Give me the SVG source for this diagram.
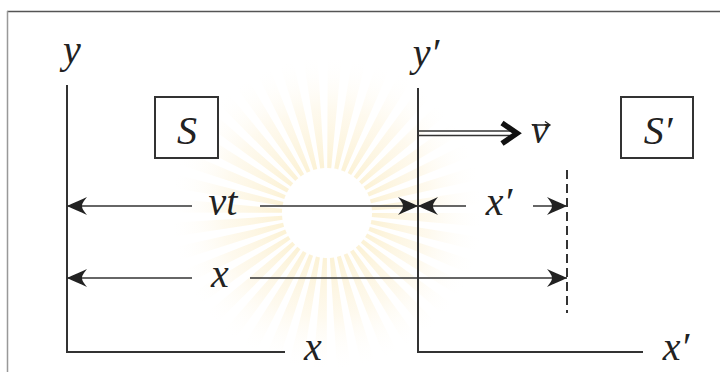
<svg xmlns="http://www.w3.org/2000/svg" width="720" height="372" viewBox="0 0 720 372">
<defs>
<style>
.ax{stroke:#333;stroke-width:2;fill:none}
.dim{stroke:#333;stroke-width:1.6;fill:none}
.lbl{font-size:40px;fill:#222;text-anchor:middle}
.box{fill:#fff;stroke:#333;stroke-width:2}
</style>
<marker id="ah" viewBox="-21 -10 22 20" refX="0" refY="0" markerWidth="22" markerHeight="20" markerUnits="userSpaceOnUse" orient="auto">
<path d="M0,0 C-6,-3 -14,-6 -20,-9 C-16,-4 -15,-2 -15,0 C-15,2 -16,4 -20,9 C-14,6 -6,3 0,0Z" fill="#222"/>
</marker>
<radialGradient id="rg" gradientUnits="userSpaceOnUse" cx="327" cy="213" r="160">
<stop offset="0.3" stop-color="#f8e3a6" stop-opacity="0.45"/>
<stop offset="0.65" stop-color="#fbecc6" stop-opacity="0.3"/>
<stop offset="1" stop-color="#ffffff" stop-opacity="0"/>
</radialGradient>
</defs>
<rect width="720" height="372" fill="#fff"/>
<g id="watermark">
<circle cx="327" cy="213" r="100" fill="none" stroke="url(#rg)" stroke-width="110" stroke-dasharray="9 6.7"/>
</g>
<g id="frame">
<line x1="7" y1="11.5" x2="720" y2="11.5" stroke="#555" stroke-width="1.5"/>
<line x1="7.5" y1="11" x2="7.5" y2="372" stroke="#999" stroke-width="1.5"/>
</g>
<g font-family="Liberation Serif, Times New Roman, serif" font-style="italic">
<g id="frame-S">
<polyline class="ax" points="67,85 67,352 285,352"/>
<text class="lbl" x="72" y="63">y</text>
<text class="lbl" x="313" y="360">x</text>
</g>
<g id="frame-Sprime">
<polyline class="ax" points="418,88 418,352 643,352"/>
<text class="lbl" x="426" y="66">y′</text>
<text class="lbl" x="676" y="360">x′</text>
</g>
<g id="box-S">
<rect class="box" x="155" y="97" width="63" height="61"/>
<text class="lbl" x="187" y="144">S</text>
</g>
<g id="box-Sprime">
<rect class="box" x="621" y="97" width="72" height="61"/>
<text class="lbl" x="658" y="144">S′</text>
</g>
<g id="velocity">
<line x1="418" y1="131" x2="512" y2="131" class="dim"/>
<line x1="418" y1="135.5" x2="512" y2="135.5" class="dim"/>
<path d="M502,123 L517,133.3 L502,143.6" fill="none" stroke="#111" stroke-width="5.5" stroke-linejoin="miter"/>
<text class="lbl" x="540" y="143">v</text>
<path d="M532,125 L549,125 M545,121.5 L550,125 L545,128.5" fill="none" stroke="#222" stroke-width="1.3"/>
</g>
<g id="connectors">
<line class="dim" x1="192" y1="206" x2="67" y2="206" marker-end="url(#ah)"/>
<line class="dim" x1="260" y1="206" x2="418" y2="206" marker-end="url(#ah)"/>
<line class="dim" x1="466" y1="206" x2="418" y2="206" marker-end="url(#ah)"/>
<line class="dim" x1="533" y1="206" x2="567" y2="206" marker-end="url(#ah)"/>
<line class="dim" x1="192" y1="278" x2="67" y2="278" marker-end="url(#ah)"/>
<line class="dim" x1="250" y1="278" x2="567" y2="278" marker-end="url(#ah)"/>
<line x1="567" y1="170" x2="567" y2="313" stroke="#333" stroke-width="2" stroke-dasharray="9 5"/>
</g>
<g id="labels">
<text class="lbl" x="223" y="215">vt</text>
<text class="lbl" x="499" y="215">x′</text>
<text class="lbl" x="220" y="287">x</text>
</g>
</g>
</svg>
